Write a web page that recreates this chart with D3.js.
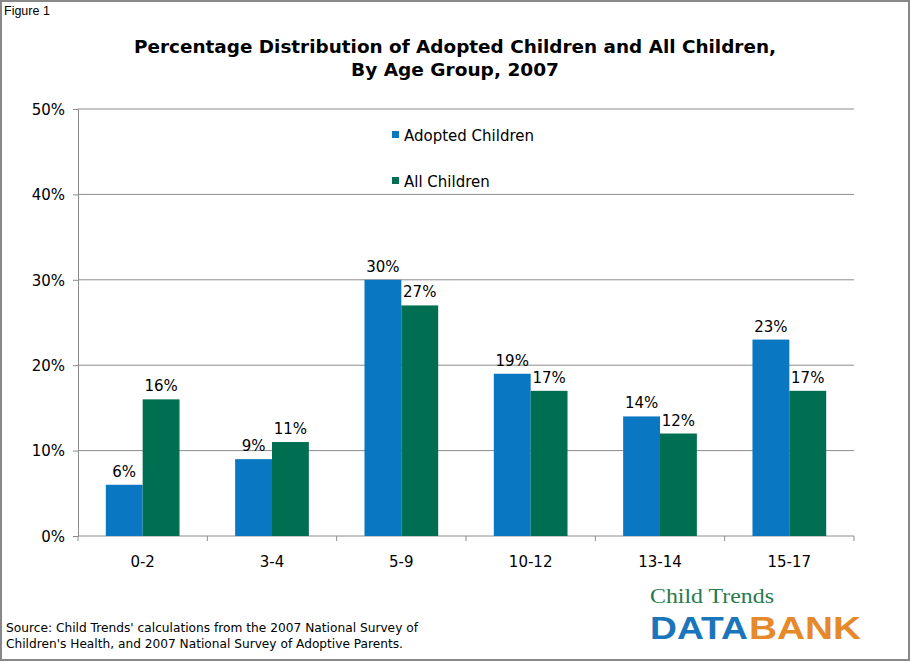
<!DOCTYPE html>
<html>
<head>
<meta charset="utf-8">
<script src="https://cdn.jsdelivr.net/npm/d3@7"></script>
<style>
  body { margin: 0; background: #fff; }
  svg { display: block; }
</style>
</head>
<body>
<svg></svg>
<script>
let ageGroups = ['0-2', '3-4', '5-9', '10-12', '13-14', '15-17']
let adopted = [6, 9, 30, 19, 14, 23]
let allKids = [16, 11, 27, 17, 12, 17]
let seriesNames = ['Adopted Children', 'All Children']
let yTicks = [0, 10, 20, 30, 40, 50]

let w = 911
let h = 662
let colors = ['#0a77c2', '#006e50']
let font = 'Verdana, "DejaVu Sans", sans-serif'

let svg = d3.select('svg').attr('width', w).attr('height', h)

// frame
svg.append('rect')
   .attr('x', 1).attr('y', 1)
   .attr('width', w - 3).attr('height', h - 3)
   .attr('fill', '#fff')
   .attr('stroke', '#888').attr('stroke-width', 2)

svg.append('text')
   .attr('x', 4).attr('y', 15)
   .attr('font-family', 'Arial, "Liberation Sans", sans-serif')
   .attr('font-size', 12.5)
   .text('Figure 1')

let title = svg.append('text')
   .attr('text-anchor', 'middle')
   .attr('font-family', font)
   .attr('font-weight', 'bold')
   .attr('font-size', 17)
title.append('tspan').attr('x', 455).attr('y', 53)
     .attr('textLength', 642).attr('lengthAdjust', 'spacingAndGlyphs')
     .text('Percentage Distribution of Adopted Children and All Children,')
title.append('tspan').attr('x', 455).attr('y', 76)
     .attr('textLength', 208).attr('lengthAdjust', 'spacingAndGlyphs')
     .text('By Age Group, 2007')

let pLeft = 78, pRight = 854, pTop = 109, pBottom = 536

let x = d3.scaleBand().domain(ageGroups).range([pLeft, pRight]).paddingInner(0.43).paddingOuter(0.215)
let y = d3.scaleLinear().domain([0, 50]).range([pBottom, pTop])

// gridlines
svg.append('g')
   .selectAll('line')
   .data(yTicks.slice(1))
   .enter()
   .append('line')
   .attr('x1', pLeft).attr('x2', pRight)
   .attr('y1', d => y(d)).attr('y2', d => y(d))
   .attr('stroke', '#8c8c8c')

let yAxis = d3.axisLeft(y).tickValues(yTicks).tickSize(5).tickFormat(d => d + '%')
let gy = svg.append('g')
   .attr('transform', 'translate(' + pLeft + ',0)')
   .call(yAxis)
gy.select('.domain').attr('stroke', '#8c8c8c')
gy.selectAll('.tick line').attr('stroke', '#8c8c8c')
gy.selectAll('.tick text')
  .attr('font-family', font).attr('font-size', 15).attr('fill', '#000')
  .attr('x', -13).attr('dy', '0.35em')

let xEdge = d3.scaleLinear().domain([0, ageGroups.length]).range([pLeft, pRight])
let gx = svg.append('g').attr('transform', 'translate(0,' + pBottom + ')')
gx.append('line').attr('x1', pLeft).attr('x2', pRight).attr('stroke', '#8c8c8c')
gx.selectAll('.edge')
  .data(d3.range(ageGroups.length + 1))
  .enter()
  .append('line')
  .attr('x1', d => xEdge(d)).attr('x2', d => xEdge(d))
  .attr('y1', 0).attr('y2', 5)
  .attr('stroke', '#8c8c8c')
gx.selectAll('text')
  .data(ageGroups)
  .enter()
  .append('text')
  .attr('x', d => x(d) + x.bandwidth() / 2)
  .attr('y', 31)
  .attr('text-anchor', 'middle')
  .attr('font-family', font).attr('font-size', 15)
  .text(d => d)

let series = [adopted, allKids]
let half = x.bandwidth() / 2
series.forEach((vals, s) => {
  let g = svg.append('g')
  g.selectAll('rect')
   .data(vals)
   .enter()
   .append('rect')
   .attr('x', (d, i) => x(ageGroups[i]) + s * half)
   .attr('y', d => y(d))
   .attr('width', half)
   .attr('height', d => pBottom - y(d))
   .attr('fill', colors[s])
  g.selectAll('text')
   .data(vals)
   .enter()
   .append('text')
   .attr('x', (d, i) => x(ageGroups[i]) + s * half + half / 2)
   .attr('y', d => y(d) - 8)
   .attr('text-anchor', 'middle')
   .attr('font-family', font).attr('font-size', 15)
   .text(d => d + '%')
})

// legend
let legend = svg.append('g')
seriesNames.forEach((name, i) => {
  legend.append('rect')
        .attr('x', 392).attr('y', 131 + i * 46)
        .attr('width', 7).attr('height', 7)
        .attr('fill', colors[i])
  legend.append('text')
        .attr('x', 404).attr('y', 141 + i * 46)
        .attr('font-family', font).attr('font-size', 15)
        .text(name)
})

// source
let src = svg.append('text')
   .attr('font-family', font).attr('font-size', 12.2)
src.append('tspan').attr('x', 6).attr('y', 632)
   .attr('textLength', 412).attr('lengthAdjust', 'spacingAndGlyphs')
   .text("Source: Child Trends' calculations from the 2007 National Survey of")
src.append('tspan').attr('x', 6).attr('y', 648)
   .attr('textLength', 397).attr('lengthAdjust', 'spacingAndGlyphs')
   .text("Children's Health, and 2007 National Survey of Adoptive Parents.")

// logo
svg.append('text')
   .attr('x', 650).attr('y', 603)
   .attr('font-family', '"Liberation Serif", "DejaVu Serif", serif')
   .attr('font-size', 20)
   .attr('fill', '#2a7a4a')
   .attr('textLength', 124).attr('lengthAdjust', 'spacingAndGlyphs')
   .text('Child Trends')
svg.append('text')
   .attr('x', 650).attr('y', 639)
   .attr('font-family', '"Liberation Sans", Arial, sans-serif')
   .attr('font-weight', 'bold').attr('font-size', 32)
   .attr('fill', '#1b75bb')
   .attr('textLength', 98).attr('lengthAdjust', 'spacingAndGlyphs')
   .text('DATA')
svg.append('text')
   .attr('x', 749).attr('y', 639)
   .attr('font-family', '"Liberation Sans", Arial, sans-serif')
   .attr('font-weight', 'bold').attr('font-size', 32)
   .attr('fill', '#e5892a')
   .attr('textLength', 112).attr('lengthAdjust', 'spacingAndGlyphs')
   .text('BANK')
</script>
</body>
</html>
